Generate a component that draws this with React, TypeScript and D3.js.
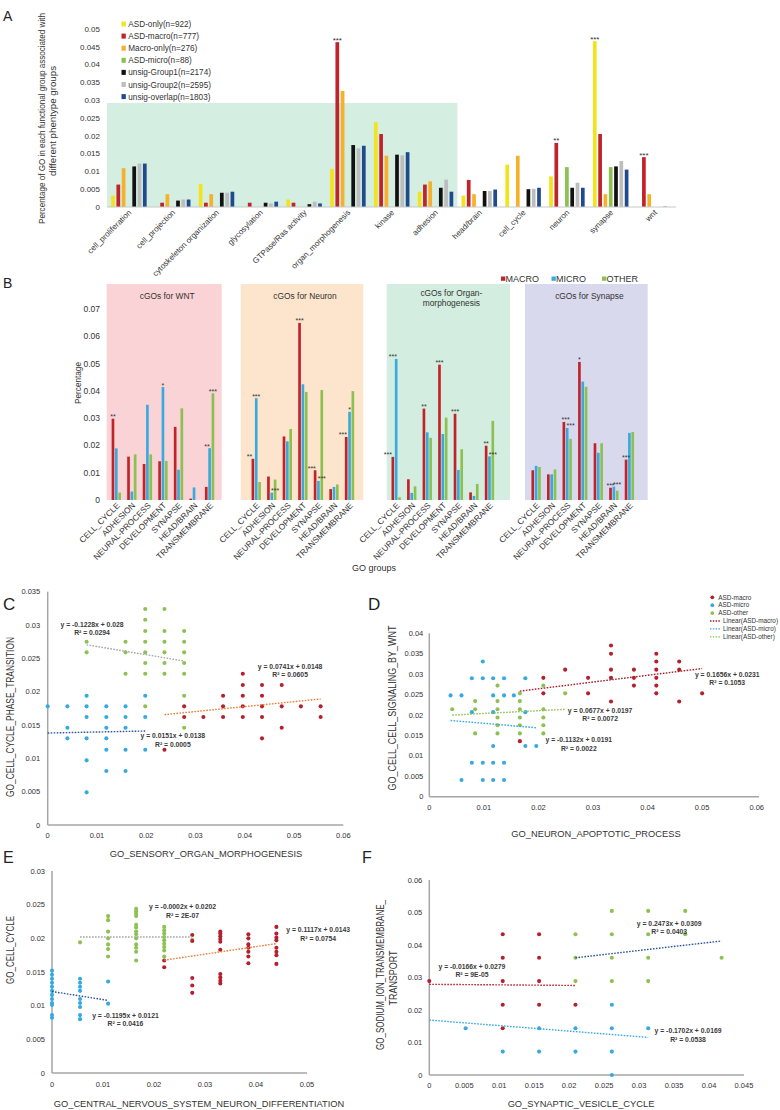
import React from "react";
import * as d3 from "d3";

type Pt = [number, number];

const FONT = "'Liberation Sans', Arial, Helvetica, sans-serif";
const TXT = "#333333";

// ---------------- Panel A ----------------
const A_CATEGORIES = [
  "cell_proliferation", "cell_projection", "cytoskeleton organization", "glycosylation",
  "GTPase/Ras activity", "organ_morphogenesis", "kinase", "adhesion", "head/brain",
  "cell_cycle", "neuron", "synapse", "wnt",
];
const A_SERIES = [
  "ASD-only(n=922)", "ASD-macro(n=777)", "Macro-only(n=276)", "ASD-micro(n=88)",
  "unsig-Group1(n=2174)", "unsig-Group2(n=2595)", "unsig-overlap(n=1803)",
];
const A_COLORS = ["#f2e41c", "#c1232b", "#f6b12c", "#8cc152", "#111111", "#bdbdbd", "#1f4b8e"];
const A_ASD_ONLY = [0.0032, 0, 0.0065, 0, 0.0021, 0.0107, 0.0238, 0.0043, 0.0032, 0.0119, 0.0086, 0.0466, 0];
const A_ASD_MACRO = [0.0063, 0.0012, 0.0012, 0.0012, 0.0012, 0.0463, 0.0205, 0.0063, 0.0076, 0, 0.018, 0.0205, 0.014];
const A_MACRO_ONLY = [0.0109, 0.0036, 0.0036, 0, 0, 0.0326, 0.0144, 0.0072, 0.0036, 0.0144, 0, 0.0036, 0.0036];
const A_ASD_MICRO = [0, 0, 0, 0, 0, 0, 0, 0, 0, 0, 0.0112, 0.0112, 0];
const A_UNSIG_GROUP1 = [0.0114, 0.0018, 0.004, 0.0012, 0.0008, 0.0174, 0.0147, 0.0054, 0.0045, 0.005, 0.0054, 0.0114, 0];
const A_UNSIG_GROUP2 = [0.0122, 0.0021, 0.004, 0.001, 0.0015, 0.0165, 0.0145, 0.0077, 0.0045, 0.0051, 0.0068, 0.0129, 0.0003];
const A_UNSIG_OVERLAP = [0.0122, 0.0021, 0.0043, 0.0015, 0.001, 0.0172, 0.0154, 0.0043, 0.0049, 0.0054, 0.0054, 0.0105, 0];
const A_Y_TICKS = [0, 0.005, 0.01, 0.015, 0.02, 0.025, 0.03, 0.035, 0.04, 0.045, 0.05];
const A_SHADE_TOP = 0.0292;
const A_STARS: { cat: string; series: number; text: string }[] = [
  { cat: "organ_morphogenesis", series: 1, text: "***" },
  { cat: "neuron", series: 1, text: "**" },
  { cat: "synapse", series: 0, text: "***" },
  { cat: "wnt", series: 1, text: "***" },
];

// ---------------- Panel B ----------------
const B_FACETS = ["cGOs for WNT", "cGOs for Neuron", "cGOs for Organ-|morphogenesis", "cGOs for Synapse"];
const B_FACET_COLORS = ["#f9d3d5", "#fce5cc", "#d3eee0", "#d9d9ed"];
const B_CATEGORIES = ["CELL_CYCLE", "ADHESION", "NEURAL-PROCESS", "DEVELOPMENT", "SYNAPSE", "HEAD/BRAIN", "TRANSMEMBRANE"];
const B_SERIES = ["MACRO", "MICRO", "OTHER"];
const B_COLORS = ["#c1232b", "#3aa9de", "#8cc152"];
const B_MACRO = [
  [0.0298, 0.0159, 0.0132, 0.0142, 0.0268, 0.0005, 0.0048],
  [0.0151, 0.0086, 0.0233, 0.0649, 0.0109, 0.004, 0.0231],
  [0.0158, 0.0076, 0.0335, 0.0496, 0.0316, 0.0028, 0.0199],
  [0.0109, 0.0094, 0.0286, 0.0506, 0.0208, 0.0045, 0.0148],
];
const B_MICRO = [
  [0.0189, 0.0031, 0.0349, 0.0414, 0.0111, 0.0046, 0.019],
  [0.0373, 0.0027, 0.0215, 0.0424, 0.007, 0.0048, 0.0323],
  [0.0517, 0.0026, 0.0248, 0.0242, 0.011, 0.0015, 0.016],
  [0.0125, 0.0094, 0.0264, 0.0434, 0.0173, 0.0049, 0.0246],
];
const B_OTHER = [
  [0.0027, 0.0167, 0.0167, 0.0143, 0.0336, 0, 0.0391],
  [0.0066, 0.0075, 0.026, 0.0396, 0.0403, 0.0057, 0.0399],
  [0.001, 0.005, 0.0228, 0.0302, 0.0186, 0.0059, 0.029],
  [0.0121, 0.0112, 0.0224, 0.0415, 0.0208, 0.0034, 0.0249],
];
const B_Y_TICKS = [0, 0.01, 0.02, 0.03, 0.04, 0.05, 0.06, 0.07];
// [facet, category, series, shift in bar slots, text]
const B_STARS: [number, number, number, number, string][] = [
  [0, 0, 0, 0, "**"], [0, 3, 1, 0, "*"], [0, 6, 1, -0.8, "**"], [0, 6, 2, 0, "***"],
  [1, 0, 0, -1, "**"], [1, 0, 1, 0, "***"], [1, 1, 1, 1, "***"], [1, 3, 0, 0, "***"],
  [1, 4, 0, -1, "***"], [1, 4, 1, 1, "***"], [1, 6, 0, -1, "***"], [1, 6, 1, 0, "*"],
  [2, 0, 0, -1.5, "***"], [2, 0, 1, -1, "***"], [2, 2, 0, 0, "**"], [2, 3, 0, 0, "***"],
  [2, 4, 0, 0, "***"], [2, 6, 0, 0, "**"], [2, 6, 1, 1, "***"],
  [3, 2, 0, 0.5, "***"], [3, 2, 1, 1, "***"], [3, 3, 0, 0, "*"], [3, 5, 0, 0, "***"],
  [3, 5, 1, 1, "***"], [3, 6, 0, 0, "***"],
];

// ---------------- Scatter panels (series order: macro, micro, other) ----------------
const DOT_COLORS = ["#b4202d", "#36a9e0", "#8dc152"];

const C_MACRO: Pt[] = [
  [0.0237, 0.0113], [0.0277, 0.0178], [0.0277, 0.0162], [0.0316, 0.0162],
  [0.0356, 0.0194], [0.0356, 0.0178], [0.0356, 0.0162],
  [0.0396, 0.0227], [0.0396, 0.021], [0.0396, 0.0194], [0.0396, 0.0178], [0.0396, 0.0162],
  [0.0435, 0.021], [0.0435, 0.0194], [0.0435, 0.0178], [0.0435, 0.0162], [0.0435, 0.013],
  [0.0475, 0.021], [0.0475, 0.0178], [0.0475, 0.0146], [0.0514, 0.0178],
  [0.0554, 0.0178], [0.0554, 0.0162],
];
const C_MICRO: Pt[] = [
  [0, 0.0178], [0.004, 0.0178], [0.004, 0.0146], [0.004, 0.013],
  [0.0079, 0.0194], [0.0079, 0.0178], [0.0079, 0.0162], [0.0079, 0.013], [0.0079, 0.0097], [0.0079, 0.0049],
  [0.0119, 0.0178], [0.0119, 0.0162], [0.0119, 0.0146], [0.0119, 0.013], [0.0119, 0.0113], [0.0119, 0.0081],
  [0.0158, 0.0178], [0.0158, 0.0162], [0.0158, 0.0146], [0.0158, 0.0113], [0.0158, 0.0081],
  [0.0198, 0.0194], [0.0198, 0.0162], [0.0198, 0.0113],
];
const C_OTHER: Pt[] = [
  [0.0079, 0.0275], [0.0079, 0.0259], [0.0158, 0.0275], [0.0158, 0.0259], [0.0158, 0.0227],
  [0.0198, 0.0324], [0.0198, 0.0308], [0.0198, 0.0291], [0.0198, 0.0275], [0.0198, 0.0259],
  [0.0198, 0.0243], [0.0198, 0.0227], [0.0198, 0.0178],
  [0.0237, 0.0324], [0.0237, 0.0291], [0.0237, 0.0275], [0.0237, 0.0259], [0.0237, 0.0243], [0.0237, 0.0227],
  [0.0277, 0.0291], [0.0277, 0.0275], [0.0277, 0.0259], [0.0277, 0.0243], [0.0277, 0.0227],
  [0.0277, 0.0194], [0.0277, 0.0146],
];
const C_SLOPES = [0.0741, 0.0151, -0.1228];
const C_INTERCEPTS = [0.0148, 0.0138, 0.028];
const C_R2 = ["0.0605", "0.0005", "0.0294"];
const C_FIT_RANGES: Pt[] = [[0.0237, 0.0554], [0, 0.0198], [0.0079, 0.0277]];
const C_LABEL_POS: Pt[] = [[0.0492, 0.0234], [0.0254, 0.013], [0.009, 0.0297]];
const C_TREND_COLORS = ["#ed7d31", "#2f5597", "#a5a5a5"];
const C_X_TICKS = [0, 0.01, 0.02, 0.03, 0.04, 0.05, 0.06];
const C_Y_TICKS = [0, 0.005, 0.01, 0.015, 0.02, 0.025, 0.03, 0.035];

const D_MACRO: Pt[] = [
  [0.0166, 0.0136], [0.0209, 0.0291], [0.0209, 0.0253], [0.0249, 0.0311],
  [0.0291, 0.0291], [0.0291, 0.0253],
  [0.0333, 0.037], [0.0333, 0.035], [0.0333, 0.0311], [0.0333, 0.0291], [0.0333, 0.0233],
  [0.0375, 0.0311], [0.0375, 0.0291], [0.0375, 0.0272],
  [0.0416, 0.035], [0.0416, 0.0331], [0.0416, 0.0311], [0.0416, 0.0291], [0.0416, 0.0272], [0.0416, 0.0253],
  [0.0458, 0.0331], [0.0458, 0.0311], [0.0458, 0.0233], [0.05, 0.0253],
];
const D_MICRO: Pt[] = [
  [0.0039, 0.0248], [0.0059, 0.0248], [0.0059, 0.0041],
  [0.0078, 0.029], [0.0078, 0.0207], [0.0078, 0.0083],
  [0.0098, 0.0331], [0.0098, 0.029], [0.0098, 0.0083], [0.0098, 0.0041],
  [0.0117, 0.029], [0.0117, 0.0248], [0.0117, 0.0207], [0.0117, 0.0124], [0.0117, 0.0083], [0.0117, 0.0041],
  [0.0137, 0.029], [0.0137, 0.0248], [0.0137, 0.0083], [0.0137, 0.0041],
  [0.0155, 0.0248], [0.0176, 0.029], [0.0176, 0.0207], [0.0176, 0.0124], [0.0196, 0.0124],
];
const D_OTHER: Pt[] = [
  [0.0042, 0.0214], [0.0084, 0.0234], [0.0084, 0.0214], [0.0084, 0.0155],
  [0.0125, 0.0272], [0.0125, 0.0234], [0.0125, 0.0214], [0.0125, 0.0194], [0.0125, 0.0175], [0.0125, 0.0155],
  [0.0166, 0.0253], [0.0166, 0.0234], [0.0166, 0.0214], [0.0166, 0.0194], [0.0166, 0.0175], [0.0166, 0.0155],
  [0.0209, 0.0272], [0.0209, 0.0214], [0.0209, 0.0194], [0.0209, 0.0175], [0.0209, 0.0155],
  [0.0249, 0.0253],
];
const D_SLOPES = [0.1656, -0.1132, 0.0677];
const D_INTERCEPTS = [0.0231, 0.0191, 0.0197];
const D_R2 = ["0.1053", "0.0022", "0.0072"];
const D_FIT_RANGES: Pt[] = [[0.0166, 0.05], [0.0039, 0.0196], [0.0042, 0.0249]];
const D_LABEL_POS: Pt[] = [[0.0546, 0.0294], [0.0274, 0.0133], [0.0313, 0.0206]];
const D_TREND_COLORS = ["#a61e2b", "#36a9e0", "#8dc152"];
const D_X_TICKS = [0, 0.01, 0.02, 0.03, 0.04, 0.05, 0.06];
const D_Y_TICKS = [0, 0.005, 0.01, 0.015, 0.02, 0.025, 0.03, 0.035, 0.04];
const D_LEGEND = ["ASD-macro", "ASD-micro", "ASD-other", "Linear(ASD-macro)", "Linear(ASD-micro)", "Linear(ASD-other)"];

const E_MACRO: Pt[] = [
  [0.022, 0.0167], [0.022, 0.0157],
  [0.0275, 0.0205], [0.0275, 0.0196], [0.0275, 0.0141], [0.0275, 0.013], [0.0275, 0.0119],
  [0.033, 0.021], [0.033, 0.0207], [0.033, 0.0203], [0.033, 0.0199], [0.033, 0.0195], [0.033, 0.0183],
  [0.033, 0.0147], [0.033, 0.0142], [0.033, 0.0137], [0.033, 0.0133],
  [0.0385, 0.0206], [0.0385, 0.02], [0.0385, 0.0191], [0.0385, 0.0186], [0.0385, 0.018], [0.0385, 0.0173], [0.0385, 0.0163],
  [0.044, 0.0217], [0.044, 0.0207], [0.044, 0.0201], [0.044, 0.0197], [0.044, 0.0186], [0.044, 0.018],
  [0.044, 0.0175], [0.044, 0.0162],
];
const E_MICRO: Pt[] = [
  [0, 0.0152], [0, 0.0146], [0, 0.014], [0, 0.0134], [0, 0.0128], [0, 0.0122], [0, 0.0116],
  [0, 0.011], [0, 0.0104], [0, 0.0101], [0, 0.0086], [0, 0.0082],
  [0.0055, 0.014], [0.0055, 0.0134], [0.0055, 0.0128], [0.0055, 0.0122], [0.0055, 0.011],
  [0.0055, 0.0104], [0.0055, 0.0098], [0.0055, 0.0086], [0.0055, 0.008],
  [0.011, 0.0136], [0.011, 0.0103],
];
const E_OTHER: Pt[] = [
  [0.0055, 0.0194],
  [0.011, 0.0233], [0.011, 0.0227], [0.011, 0.021], [0.011, 0.02], [0.011, 0.0191], [0.011, 0.0184], [0.011, 0.0173],
  [0.0165, 0.0244], [0.0165, 0.024], [0.0165, 0.0236], [0.0165, 0.0233], [0.0165, 0.022], [0.0165, 0.0216],
  [0.0165, 0.021], [0.0165, 0.0206], [0.0165, 0.02], [0.0165, 0.0191], [0.0165, 0.0186], [0.0165, 0.018], [0.0165, 0.0167],
  [0.022, 0.0217], [0.022, 0.0212], [0.022, 0.0207], [0.022, 0.0202], [0.022, 0.0197], [0.022, 0.0192],
  [0.022, 0.0187], [0.022, 0.0182], [0.022, 0.0173],
  [0.0275, 0.0198],
];
const E_SLOPES = [0.1117, -0.1195, -0.0002];
const E_INTERCEPTS = [0.0143, 0.0121, 0.0202];
const E_R2 = ["0.0754", "0.0416", "2E-07"];
const E_FIT_RANGES: Pt[] = [[0.022, 0.044], [0, 0.011], [0.0055, 0.0275]];
const E_LABEL_POS: Pt[] = [[0.0522, 0.0209], [0.0144, 0.0082], [0.0256, 0.0243]];
const E_TREND_COLORS = ["#ed7d31", "#2f5597", "#a5a5a5"];
const E_X_TICKS = [0, 0.01, 0.02, 0.03, 0.04, 0.05];
const E_Y_TICKS = [0, 0.005, 0.01, 0.015, 0.02, 0.025, 0.03];

const F_MACRO: Pt[] = [
  [0, 0.0289], [0.0105, 0.0433], [0.0105, 0.0361], [0.0105, 0.0289], [0.0105, 0.0216], [0.0105, 0.0144],
  [0.0157, 0.0433], [0.0157, 0.0361], [0.0157, 0.0289], [0.0157, 0.0216], [0.0209, 0.0216],
];
const F_MICRO: Pt[] = [
  [0.0052, 0.0144], [0.0105, 0.0072], [0.0157, 0.0144], [0.0157, 0.0072],
  [0.0209, 0.0144], [0.0209, 0.0072],
  [0.0261, 0.0216], [0.0261, 0.0144], [0.0261, 0.0072], [0.0261, 0], [0.0313, 0.0144],
];
const F_OTHER: Pt[] = [
  [0.0209, 0.0433], [0.0209, 0.0361], [0.0209, 0.0289],
  [0.0261, 0.0505], [0.0261, 0.0433], [0.0261, 0.0361], [0.0261, 0.0289],
  [0.0313, 0.0505], [0.0313, 0.0433], [0.0313, 0.0361], [0.0313, 0.0289],
  [0.0366, 0.0505], [0.0366, 0.0433], [0.0418, 0.0361],
];
const F_SLOPES = [-0.0166, -0.1702, 0.2473];
const F_INTERCEPTS = [0.0279, 0.0169, 0.0309];
const F_R2 = ["9E-05", "0.0538", "0.0403"];
const F_FIT_RANGES: Pt[] = [[0, 0.0209], [0, 0.0313], [0.0209, 0.0418]];
const F_LABEL_POS: Pt[] = [[0.0061, 0.0326], [0.037, 0.0128], [0.0343, 0.046]];
const F_TREND_COLORS = ["#c0202e", "#36a9e0", "#2f5597"];
const F_X_TICKS = [0, 0.005, 0.01, 0.015, 0.02, 0.025, 0.03, 0.035, 0.04, 0.045];
const F_Y_TICKS = [0, 0.01, 0.02, 0.03, 0.04, 0.05, 0.06];

function fmtTick(v: number) {
  return v === 0 ? "0" : String(+v.toFixed(4));
}

function PanelA() {
  const x = d3.scaleBand<string>().domain(A_CATEGORIES).range([107, 676.4]);
  const inner = d3.scaleBand<string>().domain(A_SERIES).range([-18.55, 18.55]).paddingInner(0.3).paddingOuter(0.15);
  const y = d3.scaleLinear().domain([0, 0.05]).range([207, 29]);
  const values = [A_ASD_ONLY, A_ASD_MACRO, A_MACRO_ONLY, A_ASD_MICRO, A_UNSIG_GROUP1, A_UNSIG_GROUP2, A_UNSIG_OVERLAP];
  const bw = inner.bandwidth();
  const cx = (c: string) => (x(c) as number) + x.bandwidth() / 2;
  const x0 = x(A_CATEGORIES[0]) as number;
  const shadeEnd = (x("adhesion") as number) + x.step();
  return (
    <g>
      <rect x={x0} y={y(A_SHADE_TOP)} width={shadeEnd - x0} height={y(0) - y(A_SHADE_TOP)} fill="#d4eee2" />
      {A_Y_TICKS.map((t) => (
        <text key={t} x={100} y={y(t) + 2.8} textAnchor="end" fontSize={8} fill={TXT}>{fmtTick(t)}</text>
      ))}
      {values.map((vals, si) =>
        vals.map((v, ci) =>
          v > 0 ? (
            <rect key={`${si}-${ci}`} x={cx(A_CATEGORIES[ci]) + (inner(A_SERIES[si]) as number)} y={y(v)}
              width={bw} height={y(0) - y(v)} fill={A_COLORS[si]} />
          ) : null
        )
      )}
      <line x1={107} x2={676} y1={y(0)} y2={y(0)} stroke="#c8c8c8" strokeWidth={1} />
      {A_STARS.map((s, i) => {
        const si = s.series;
        const v = values[si][A_CATEGORIES.indexOf(s.cat)];
        return (
          <text key={i} x={cx(s.cat) + (inner(A_SERIES[si]) as number) + bw / 2} y={y(v) + 0.5}
            textAnchor="middle" fontSize={8} fill={TXT}>{s.text}</text>
        );
      })}
      {A_CATEGORIES.map((c) => (
        <text key={c} transform={`translate(${cx(c) + 3},${213}) rotate(-45)`} textAnchor="end" fontSize={8} fill={TXT}>{c}</text>
      ))}
      {A_SERIES.map((s, i) => (
        <g key={s}>
          <rect x={121.5} y={21.5 + i * 12.1} width={4.3} height={5} fill={A_COLORS[i]} />
          <text x={128.3} y={27 + i * 12.1} fontSize={8.2} fill={TXT}>{s}</text>
        </g>
      ))}
      <text transform="translate(44.6,118.5) rotate(-90)" textAnchor="middle" fontSize={8.4} fill={TXT}
        textLength={211} lengthAdjust="spacingAndGlyphs">Percentage of GO in each functional group associated with</text>
      <text transform="translate(56.3,121) rotate(-90)" textAnchor="middle" fontSize={8.8} fill={TXT}
        textLength={110} lengthAdjust="spacingAndGlyphs">different phentype groups</text>
      <text x={3} y={21} fontSize={14} fill="#222">A</text>
    </g>
  );
}

const B_BOX_X: Pt[] = [[106.7, 221.7], [240.7, 363.3], [386.7, 510], [525, 647.7]];

function PanelB() {
  const slot = d3.scaleLinear().domain([0, 33]).range([116.3, 629.4]);
  const inner = d3.scaleBand<string>().domain(B_SERIES).range([-5, 5]).paddingInner(0.2).paddingOuter(0.1);
  const y = d3.scaleLinear().domain([0, 0.07]).range([500, 309]);
  const bw = inner.bandwidth();
  const values = [B_MACRO, B_MICRO, B_OTHER];
  const cx = (f: number, c: number) => slot(f * 9 + c);
  const barX = (f: number, c: number, s: number) => cx(f, c) + (inner(B_SERIES[s]) as number);
  return (
    <g>
      {B_FACETS.map((t, f) => (
        <g key={t}>
          <rect x={B_BOX_X[f][0]} y={284} width={B_BOX_X[f][1] - B_BOX_X[f][0]} height={y(0) - 284} fill={B_FACET_COLORS[f]} />
          {t.split("|").map((line, li, arr) => (
            <text key={li} x={(B_BOX_X[f][0] + B_BOX_X[f][1]) / 2 + 3} y={(arr.length > 1 ? 296 : 298.5) + li * 9.6}
              textAnchor="middle" fontSize={8.4} fill={TXT}>{line}</text>
          ))}
        </g>
      ))}
      {B_Y_TICKS.map((t) => (
        <text key={t} x={100} y={y(t) + 3} textAnchor="end" fontSize={8.5} fill={TXT}>{fmtTick(t)}</text>
      ))}
      {values.map((facets, s) =>
        facets.map((vals, f) =>
          vals.map((v, c) =>
            v > 0 ? (
              <rect key={`${s}-${f}-${c}`} x={barX(f, c, s)} y={y(v)} width={bw} height={y(0) - y(v)} fill={B_COLORS[s]} />
            ) : null
          )
        )
      )}
      {B_STARS.map(([f, c, s, dx, t], i) => (
        <text key={i} x={barX(f, c, s) + bw / 2 + dx * inner.step()} y={y(values[s][f][c]) + 0.5}
          textAnchor="middle" fontSize={7} fill={TXT}>{t}</text>
      ))}
      {B_FACETS.map((_, f) =>
        B_CATEGORIES.map((c, ci) => (
          <text key={`${f}-${c}`} transform={`translate(${cx(f, ci) + 4},${506}) rotate(-45)`} textAnchor="end"
            fontSize={8.3} fill={TXT}>{c}</text>
        ))
      )}
      {B_SERIES.map((s, i) => (
        <g key={s}>
          <rect x={501 + i * 50.5} y={276.5} width={4.3} height={4.3} fill={B_COLORS[i]} />
          <text x={505.5 + i * 50.5} y={282.3} fontSize={9} fill={TXT}>{s}</text>
        </g>
      ))}
      <text transform="translate(81,383) rotate(-90)" textAnchor="middle" fontSize={9} fill={TXT}
        textLength={42} lengthAdjust="spacingAndGlyphs">Percentage</text>
      <text x={374} y={571} textAnchor="middle" fontSize={9} fill={TXT}>GO groups</text>
      <text x={3} y={288} fontSize={14} fill="#222">B</text>
    </g>
  );
}

interface ScatterProps {
  xDomain: Pt; xRange: Pt; yDomain: Pt; yRange: Pt;
  xTicks: number[]; yTicks: number[]; xAxisEnd: number; xTickGap: number; yTickGap: number;
  series: Pt[][]; slopes: number[]; intercepts: number[]; r2: string[]; fitRanges: Pt[];
  labelPos: Pt[]; trendColors: string[];
}

function Scatter(p: ScatterProps) {
  const x = d3.scaleLinear().domain(p.xDomain).range(p.xRange);
  const y = d3.scaleLinear().domain(p.yDomain).range(p.yRange);
  const order = [1, 2, 0];
  const line = d3.line<Pt>().x((d) => x(d[0])).y((d) => y(d[1]));
  const x0 = x(0);
  const y0 = y(0);
  return (
    <g>
      <line x1={x0} x2={x0} y1={y0} y2={y(p.yDomain[1])} stroke="#a6a6a6" strokeWidth={1.5} />
      <line x1={x0} x2={p.xAxisEnd} y1={y0} y2={y0} stroke="#a6a6a6" strokeWidth={1.5} />
      {p.yTicks.map((t) => (
        <text key={t} x={x0 - p.yTickGap} y={y(t) + 2.6} textAnchor="end" fontSize={7.5} fill={TXT}>{fmtTick(t)}</text>
      ))}
      {p.xTicks.map((t) => (
        <text key={t} x={x(t)} y={y0 + p.xTickGap} textAnchor="middle" fontSize={7.5} fill={TXT}>{fmtTick(t)}</text>
      ))}
      {order.map((s) =>
        p.series[s].map((d, i) => <circle key={`${s}-${i}`} cx={x(d[0])} cy={y(d[1])} r={2.05} fill={DOT_COLORS[s]} />)
      )}
      {order.map((s) => {
        const [a, b] = p.fitRanges[s];
        const pts: Pt[] = [a, b].map((v) => [v, p.slopes[s] * v + p.intercepts[s]] as Pt);
        return <path key={`t${s}`} d={line(pts) || ""} fill="none" stroke={p.trendColors[s]} strokeWidth={1.4} strokeDasharray="1.6,1.4" />;
      })}
      {order.map((s) => {
        const [lx, ly] = p.labelPos[s];
        const eq = `y = ${p.slopes[s]}x + ${p.intercepts[s]}`;
        return (
          <g key={`l${s}`}>
            <text x={x(lx)} y={y(ly)} textAnchor="middle" fontSize={6.8} fontWeight="bold" fill="#3a3a3a">{eq}</text>
            <text x={x(lx)} y={y(ly) + 8.3} textAnchor="middle" fontSize={6.8} fontWeight="bold" fill="#3a3a3a">{`R² = ${p.r2[s]}`}</text>
          </g>
        );
      })}
    </g>
  );
}

function YTitle(props: { x: number; y: number; len: number; text: string; size?: number }) {
  return (
    <text transform={`translate(${props.x},${props.y}) rotate(-90)`} textAnchor="middle" fontSize={props.size || 10}
      fill={TXT} textLength={props.len} lengthAdjust="spacingAndGlyphs">{props.text}</text>
  );
}

export default function App() {
  return (
    <svg width={780} height={1110} viewBox="0 0 780 1110" fontFamily={FONT}
      style={{ position: "absolute", left: 0, top: 0, display: "block", background: "#fff" }}>
      <rect x={0} y={0} width={780} height={1110} fill="#ffffff" />
      <PanelA />
      <PanelB />

      {/* C */}
      <Scatter xDomain={[0, 0.06]} xRange={[47.7, 343.3]} yDomain={[0, 0.035]} yRange={[825, 591.7]}
        xTicks={C_X_TICKS} yTicks={C_Y_TICKS} xAxisEnd={343.3} xTickGap={13} yTickGap={7.5}
        series={[C_MACRO, C_MICRO, C_OTHER]} slopes={C_SLOPES} intercepts={C_INTERCEPTS} r2={C_R2}
        fitRanges={C_FIT_RANGES} labelPos={C_LABEL_POS} trendColors={C_TREND_COLORS} />
      <YTitle x={13.5} y={717} len={160} text="GO_CELL_CYCLE_PHASE_TRANSITION" />
      <text x={206} y={857} textAnchor="middle" fontSize={9.3} fill={TXT}>GO_SENSORY_ORGAN_MORPHOGENESIS</text>
      <text x={3} y={610} fontSize={17} fill="#222">C</text>

      {/* D */}
      <Scatter xDomain={[0, 0.06]} xRange={[429.3, 756.7]} yDomain={[0, 0.04]} yRange={[796.7, 633.3]}
        xTicks={D_X_TICKS} yTicks={D_Y_TICKS} xAxisEnd={759} xTickGap={13} yTickGap={6}
        series={[D_MACRO, D_MICRO, D_OTHER]} slopes={D_SLOPES} intercepts={D_INTERCEPTS} r2={D_R2}
        fitRanges={D_FIT_RANGES} labelPos={D_LABEL_POS} trendColors={D_TREND_COLORS} />
      <YTitle x={395.5} y={708} len={165} text="GO_CELL_CELL_SIGNALING_BY_WNT" />
      <text x={596} y={837} textAnchor="middle" fontSize={9.3} fill={TXT}>GO_NEURON_APOPTOTIC_PROCESS</text>
      <text x={368} y={610} fontSize={17} fill="#222">D</text>
      {D_LEGEND.map((t, i) => {
        const yy = 597.3 + i * 7.9;
        return (
          <g key={t}>
            {i < 3 ? (
              <circle cx={712.3} cy={yy} r={1.9} fill={DOT_COLORS[i]} />
            ) : (
              <line x1={710} x2={720.5} y1={yy} y2={yy} stroke={D_TREND_COLORS[i - 3]} strokeWidth={1.3} strokeDasharray="1.5,1.3" />
            )}
            <text x={i < 3 ? 718.3 : 723} y={yy + 2.2} fontSize={6.4} fill={TXT}>{t}</text>
          </g>
        );
      })}

      {/* E */}
      <Scatter xDomain={[0, 0.05]} xRange={[52, 307]} yDomain={[0, 0.03]} yRange={[1073, 871]}
        xTicks={E_X_TICKS} yTicks={E_Y_TICKS} xAxisEnd={307} xTickGap={14} yTickGap={7}
        series={[E_MACRO, E_MICRO, E_OTHER]} slopes={E_SLOPES} intercepts={E_INTERCEPTS} r2={E_R2}
        fitRanges={E_FIT_RANGES} labelPos={E_LABEL_POS} trendColors={E_TREND_COLORS} />
      <YTitle x={13.5} y={950} len={68} text="GO_CELL_CYCLE" />
      <text x={199} y={1107} textAnchor="middle" fontSize={9.3} fill={TXT}>GO_CENTRAL_NERVOUS_SYSTEM_NEURON_DIFFERENTIATION</text>
      <text x={3} y={863} fontSize={16} fill="#222">E</text>

      {/* F */}
      <Scatter xDomain={[0, 0.045]} xRange={[429.3, 744]} yDomain={[0, 0.06]} yRange={[1075, 880]}
        xTicks={F_X_TICKS} yTicks={F_Y_TICKS} xAxisEnd={744} xTickGap={13} yTickGap={7}
        series={[F_MACRO, F_MICRO, F_OTHER]} slopes={F_SLOPES} intercepts={F_INTERCEPTS} r2={F_R2}
        fitRanges={F_FIT_RANGES} labelPos={F_LABEL_POS} trendColors={F_TREND_COLORS} />
      <YTitle x={383.5} y={975} len={150} text="GO_SODIUM_ION_TRANSMEMBRANE_" />
      <YTitle x={396.5} y={978} len={55} text="TRANSPORT" />
      <text x={581} y={1107} textAnchor="middle" fontSize={9.3} fill={TXT}>GO_SYNAPTIC_VESICLE_CYCLE</text>
      <text x={362} y={863} fontSize={16} fill="#222">F</text>
    </svg>
  );
}
